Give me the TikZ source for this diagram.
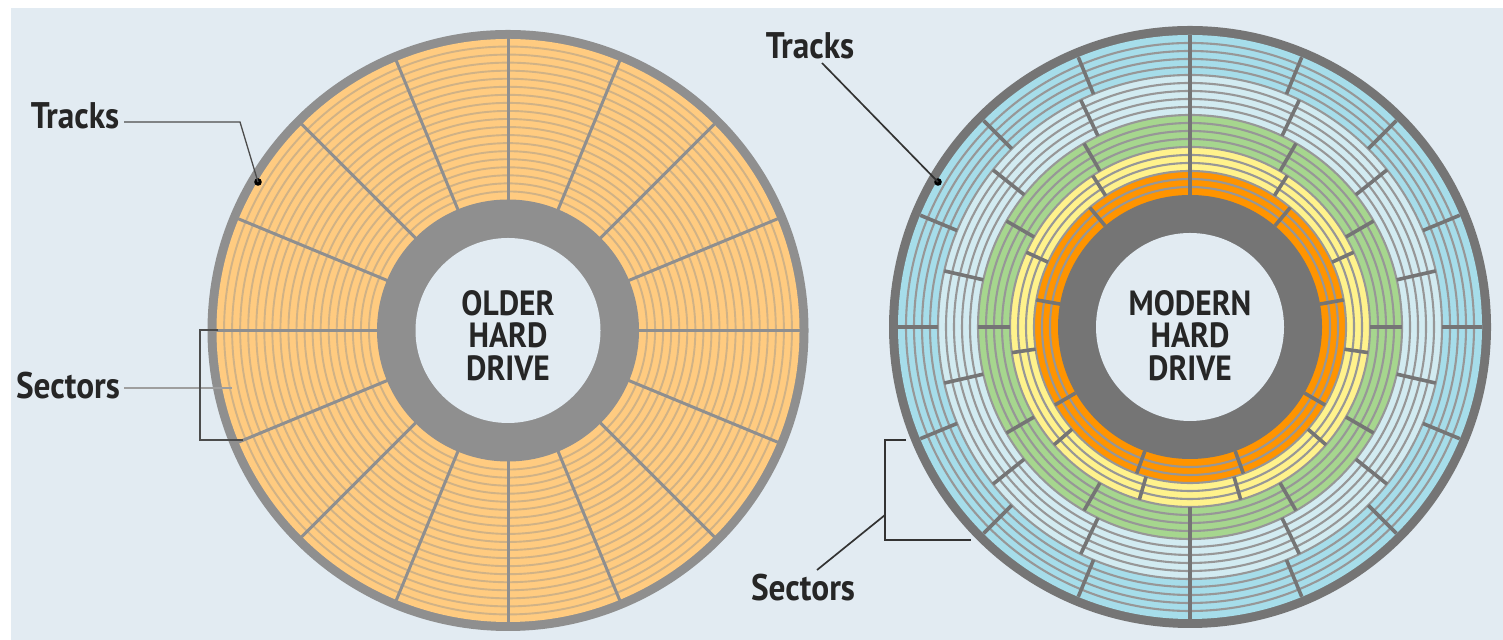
\documentclass[tikz,border=0pt]{standalone}
\usepackage{fontspec}
\setmainfont{PT Sans}[FakeStretch=0.9]
\definecolor{bgc}{HTML}{E2EBF2}
\definecolor{grayA}{HTML}{8F8F8F}
\definecolor{grayB}{HTML}{757575}
\definecolor{peach}{HTML}{FFCB80}
\definecolor{zblue}{HTML}{A6DDEA}
\definecolor{zpale}{HTML}{D2EBF1}
\definecolor{zgreen}{HTML}{A6D68E}
\definecolor{zyellow}{HTML}{FFF28C}
\definecolor{zorange}{HTML}{FF9400}
\tikzset{
  labeltext/.style={font=\fontsize{18.5}{20}\selectfont\bfseries, text=black!85, inner sep=0pt},
  disktext/.style={font=\fontsize{17.5}{16.25}\selectfont\bfseries, text=black!85, align=center, inner sep=0pt},
  leader/.style={draw=black!70, line width=0.65pt},
  leadergray/.style={draw=black!38, line width=1pt},
  leaderdark/.style={draw=black!80, line width=0.85pt},
  dotmark/.style={circle, fill=black, minimum size=3.8pt, inner sep=0pt},
  trackA/.style={draw=grayA!42!peach, line width=0.95pt},
  trackB/.style={draw=grayB!75!white, line width=1.05pt},
  sectorA/.style={draw=grayA, line width=1.5pt},
  sectorB/.style={draw=grayB, line width=1.8pt},
}
\begin{document}
\begin{tikzpicture}[x=0.5pt,y=0.5pt]
\useasboundingbox (0,0) rectangle (1503,640);
\fill[white] (0,0) rectangle (1503,640);
\fill[bgc] (11,0) rectangle (1503,632);
% ---------- older drive
\begin{scope}[shift={(508,309.5)}]
  \fill[grayA] (0,0) circle (300.5);
  \fill[peach] (0,0) circle (291.5);
  \foreach \k in {1,...,19} \draw[trackA] (0,0) circle ({131+8.05*\k});
  \foreach \a in {0,22.5,...,337.5} \draw[sectorA] (\a:130) -- (\a:292);
  \fill[grayA] (0,0) circle (131);
  \fill[bgc] (0,0) circle (92.5);
\end{scope}
\node[disktext] (older) at (508,304.5) {OLDER\\HARD\\DRIVE};
% ---------- modern drive
\begin{scope}[shift={(1190,313)}]
  \fill[grayB] (0,0) circle (301);
  \fill[zblue] (0,0) circle (292);
  \fill[zpale] (0,0) circle (252);
  \fill[zgreen] (0,0) circle (212);
  \fill[zyellow] (0,0) circle (180);
  \fill[zorange] (0,0) circle (156);
  \foreach \k in {1,...,19} \draw[trackB] (0,0) circle ({132+8*\k});
  \foreach \i in {0,...,15} \draw[sectorB] ({22.5*\i}:252) -- ({22.5*\i}:292);
  \foreach \i in {0,...,13} \draw[sectorB] ({90+360/14*\i}:212) -- ({90+360/14*\i}:252);
  \foreach \i in {0,...,11} \draw[sectorB] ({30*\i}:180) -- ({30*\i}:212);
  \foreach \i in {0,...,10} \draw[sectorB] ({90+360/11*\i}:156) -- ({90+360/11*\i}:180);
  \foreach \i in {0,...,8} \draw[sectorB] ({90+40*\i}:132) -- ({90+40*\i}:156);
  \fill[grayB] (0,0) circle (132);
  \fill[bgc] (0,0) circle (94);
\end{scope}
\node[disktext] (modern) at (1190,304.5) {MODERN\\HARD\\DRIVE};
% ---------- labels
\node[labeltext] (tracksL) at (75,524) {Tracks};
\node[labeltext] (sectorsL) at (68,254) {Sectors};
\node[labeltext] (tracksR) at (810,594) {Tracks};
\node[labeltext] (sectorsR) at (803,52) {Sectors};
\node[dotmark] (dotL) at (258,458) {};
\node[dotmark] (dotR) at (938,458) {};
\coordinate (kneeL) at (240,518);
\coordinate (sectEnd) at (232,252);
\coordinate (brLt) at (218,310);
\coordinate (brLtc) at (200,310);
\coordinate (brLb) at (243,200);
\coordinate (brLbc) at (200,200);
\coordinate (brRt) at (906,200);
\coordinate (brRtc) at (885,200);
\coordinate (brRb) at (971,100);
\coordinate (brRbc) at (885,100);
\coordinate (brRj) at (885,125);
\coordinate (sectStart) at (124,252);
\coordinate (trackLstart) at (124,518);
\coordinate (trackRstart) at (822,577);
\coordinate (sectRstart) at (817,70);
% ---------- leaders
\draw[leader] (trackLstart) -- (kneeL) -- (dotL.center);
\draw[leaderdark] (trackRstart) -- (dotR.center);
\draw[leadergray] (sectStart) -- (sectEnd);
\draw[leader] (brLt) -- (brLtc) -- (brLbc) -- (brLb);
\draw[leaderdark] (brRt) -- (brRtc) -- (brRbc) -- (brRb);
\draw[leaderdark] (sectRstart) -- (brRj);
\end{tikzpicture}
\end{document}
